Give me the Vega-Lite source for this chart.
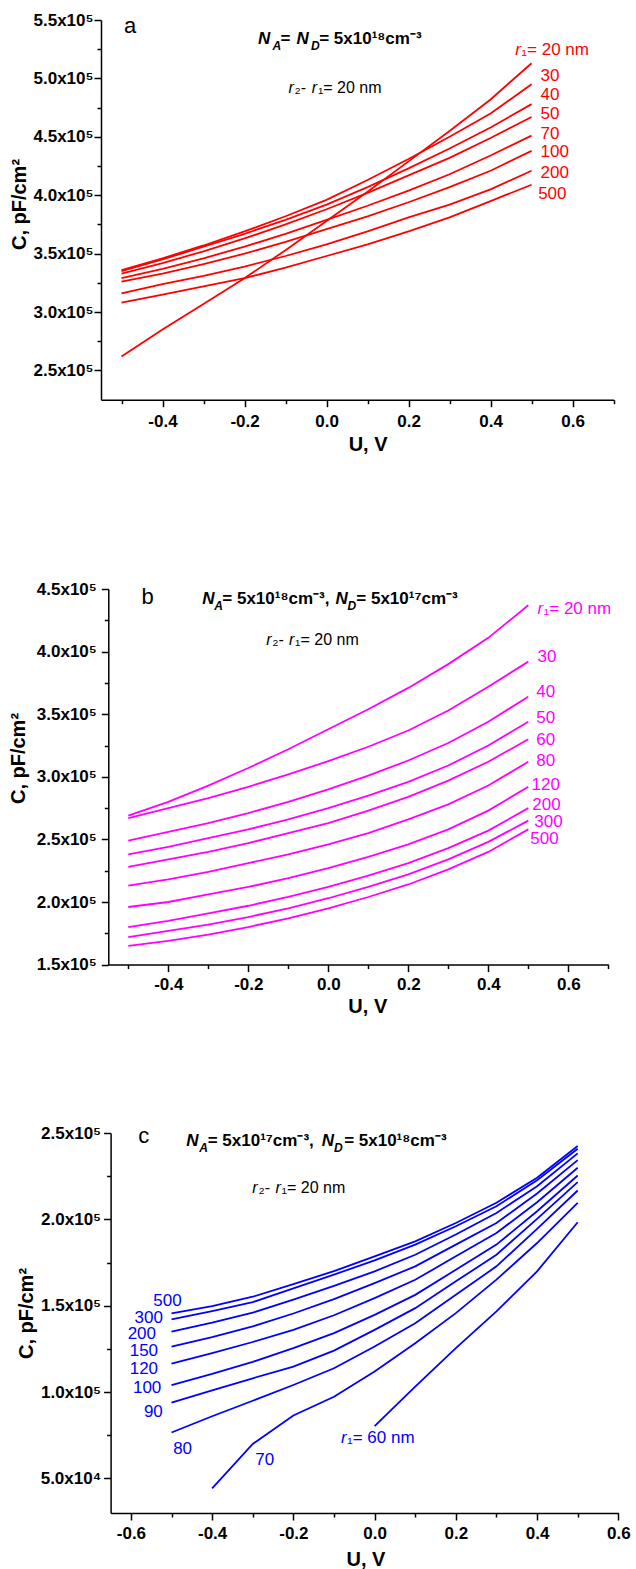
{
"$schema":"https://vega.github.io/schema/vega-lite/v6.json",
"padding":{"left":8,"top":11,"right":0,"bottom":0},
"config":{"font":"Liberation Sans","view":{"stroke":null},
 "axis":{"grid":false,"domainColor":"black","domainWidth":1.5,"tickColor":"black","tickWidth":1.5,"tickSize":7,"labelColor":"black","labelFont":"Liberation Sans","labelFontWeight":"bold","labelFontSize":17,"titleColor":"black","titleFont":"Liberation Sans","titleFontWeight":"bold","titleFontSize":20,"labelOverlap":false,"labelFlush":false}},
"datasets":{
"al":[
{"r":20,"u":-0.5,"c":262000},{"r":20,"u":-0.4,"c":285000},{"r":20,"u":-0.3,"c":307000},{"r":20,"u":-0.2,"c":329000},{"r":20,"u":-0.1,"c":353000},{"r":20,"u":0,"c":378000},{"r":20,"u":0.1,"c":403000},{"r":20,"u":0.2,"c":429000},{"r":20,"u":0.3,"c":455000},{"r":20,"u":0.4,"c":482000},{"r":20,"u":0.5,"c":513000},
{"r":30,"u":-0.5,"c":336000},{"r":30,"u":-0.4,"c":346000},{"r":30,"u":-0.3,"c":357000},{"r":30,"u":-0.2,"c":369000},{"r":30,"u":-0.1,"c":382000},{"r":30,"u":0,"c":396000},{"r":30,"u":0.1,"c":413000},{"r":30,"u":0.2,"c":431000},{"r":30,"u":0.3,"c":450000},{"r":30,"u":0.4,"c":470000},{"r":30,"u":0.5,"c":495000},
{"r":40,"u":-0.5,"c":335000},{"r":40,"u":-0.4,"c":345000},{"r":40,"u":-0.3,"c":356000},{"r":40,"u":-0.2,"c":367000},{"r":40,"u":-0.1,"c":379000},{"r":40,"u":0,"c":392000},{"r":40,"u":0.1,"c":407000},{"r":40,"u":0.2,"c":423000},{"r":40,"u":0.3,"c":440000},{"r":40,"u":0.4,"c":458000},{"r":40,"u":0.5,"c":478000},
{"r":50,"u":-0.5,"c":333000},{"r":50,"u":-0.4,"c":342000},{"r":50,"u":-0.3,"c":352000},{"r":50,"u":-0.2,"c":363000},{"r":50,"u":-0.1,"c":375000},{"r":50,"u":0,"c":388000},{"r":50,"u":0.1,"c":402000},{"r":50,"u":0.2,"c":417000},{"r":50,"u":0.3,"c":432000},{"r":50,"u":0.4,"c":449000},{"r":50,"u":0.5,"c":467000},
{"r":70,"u":-0.5,"c":329000},{"r":70,"u":-0.4,"c":337000},{"r":70,"u":-0.3,"c":346000},{"r":70,"u":-0.2,"c":356000},{"r":70,"u":-0.1,"c":367000},{"r":70,"u":0,"c":379000},{"r":70,"u":0.1,"c":391000},{"r":70,"u":0.2,"c":404000},{"r":70,"u":0.3,"c":418000},{"r":70,"u":0.4,"c":434000},{"r":70,"u":0.5,"c":451000},
{"r":100,"u":-0.5,"c":326000},{"r":100,"u":-0.4,"c":333000},{"r":100,"u":-0.3,"c":341000},{"r":100,"u":-0.2,"c":350000},{"r":100,"u":-0.1,"c":360000},{"r":100,"u":0,"c":371000},{"r":100,"u":0.1,"c":382000},{"r":100,"u":0.2,"c":394000},{"r":100,"u":0.3,"c":407000},{"r":100,"u":0.4,"c":421000},{"r":100,"u":0.5,"c":438000},
{"r":200,"u":-0.5,"c":316000},{"r":200,"u":-0.4,"c":324000},{"r":200,"u":-0.3,"c":331000},{"r":200,"u":-0.2,"c":339000},{"r":200,"u":-0.1,"c":348000},{"r":200,"u":0,"c":358000},{"r":200,"u":0.1,"c":369000},{"r":200,"u":0.2,"c":381000},{"r":200,"u":0.3,"c":392000},{"r":200,"u":0.4,"c":405000},{"r":200,"u":0.5,"c":421000},
{"r":500,"u":-0.5,"c":308000},{"r":500,"u":-0.4,"c":315000},{"r":500,"u":-0.3,"c":322000},{"r":500,"u":-0.2,"c":329000},{"r":500,"u":-0.1,"c":338000},{"r":500,"u":0,"c":348000},{"r":500,"u":0.1,"c":358000},{"r":500,"u":0.2,"c":369000},{"r":500,"u":0.3,"c":381000},{"r":500,"u":0.4,"c":395000},{"r":500,"u":0.5,"c":409000}
],
"at":[
{"role":"letter","t":"a","u":-0.494,"c":539200},
{"role":"headvar","t":"N","u":-0.167,"c":529200},
{"role":"headsub","t":"A","u":-0.132,"c":529200},
{"role":"head","t":"=","u":-0.112,"c":529200},
{"role":"headvar","t":"N","u":-0.073,"c":529200},
{"role":"headsub","t":"D","u":-0.038,"c":529200},
{"role":"head","t":"= 5x10¹⁸cm⁻³","u":-0.018,"c":529200},
{"role":"notevar","t":"r","u":-0.0925,"c":487800},
{"role":"note","t":"₂-","u":-0.078,"c":487800},
{"role":"notevar","t":"r","u":-0.036,"c":487800},
{"role":"note","t":"₁= 20 nm","u":-0.021,"c":487800},
{"role":"curvevar","t":"r","u":0.46,"c":519800},
{"role":"curve","t":"₁= 20 nm","u":0.475,"c":519800},
{"role":"curve","t":"30","u":0.522,"c":497800},
{"role":"curve","t":"40","u":0.522,"c":481300},
{"role":"curve","t":"50","u":0.522,"c":465600},
{"role":"curve","t":"70","u":0.522,"c":448500},
{"role":"curve","t":"100","u":0.522,"c":432800},
{"role":"curve","t":"200","u":0.522,"c":415100},
{"role":"curve","t":"500","u":0.516,"c":396600}
],
"bl":[
{"r":20,"u":-0.5,"c":269000},{"r":20,"u":-0.4,"c":280000},{"r":20,"u":-0.3,"c":293000},{"r":20,"u":-0.2,"c":307000},{"r":20,"u":-0.1,"c":322000},{"r":20,"u":0,"c":338000},{"r":20,"u":0.1,"c":354000},{"r":20,"u":0.2,"c":371000},{"r":20,"u":0.3,"c":390000},{"r":20,"u":0.4,"c":411000},{"r":20,"u":0.5,"c":437000},
{"r":30,"u":-0.5,"c":267000},{"r":30,"u":-0.4,"c":275000},{"r":30,"u":-0.3,"c":283000},{"r":30,"u":-0.2,"c":292000},{"r":30,"u":-0.1,"c":302000},{"r":30,"u":0,"c":312500},{"r":30,"u":0.1,"c":324000},{"r":30,"u":0.2,"c":337000},{"r":30,"u":0.3,"c":353000},{"r":30,"u":0.4,"c":372000},{"r":30,"u":0.5,"c":392000},
{"r":40,"u":-0.5,"c":249000},{"r":40,"u":-0.4,"c":256000},{"r":40,"u":-0.3,"c":263000},{"r":40,"u":-0.2,"c":271000},{"r":40,"u":-0.1,"c":280000},{"r":40,"u":0,"c":290000},{"r":40,"u":0.1,"c":301000},{"r":40,"u":0.2,"c":313000},{"r":40,"u":0.3,"c":327000},{"r":40,"u":0.4,"c":344000},{"r":40,"u":0.5,"c":364000},
{"r":50,"u":-0.5,"c":238000},{"r":50,"u":-0.4,"c":244000},{"r":50,"u":-0.3,"c":251000},{"r":50,"u":-0.2,"c":258000},{"r":50,"u":-0.1,"c":266000},{"r":50,"u":0,"c":275000},{"r":50,"u":0.1,"c":285000},{"r":50,"u":0.2,"c":296000},{"r":50,"u":0.3,"c":309000},{"r":50,"u":0.4,"c":325000},{"r":50,"u":0.5,"c":344000},
{"r":60,"u":-0.5,"c":228000},{"r":60,"u":-0.4,"c":234000},{"r":60,"u":-0.3,"c":240000},{"r":60,"u":-0.2,"c":247000},{"r":60,"u":-0.1,"c":255000},{"r":60,"u":0,"c":263000},{"r":60,"u":0.1,"c":273000},{"r":60,"u":0.2,"c":284000},{"r":60,"u":0.3,"c":297000},{"r":60,"u":0.4,"c":312000},{"r":60,"u":0.5,"c":330000},
{"r":80,"u":-0.5,"c":213000},{"r":80,"u":-0.4,"c":218000},{"r":80,"u":-0.3,"c":224000},{"r":80,"u":-0.2,"c":231000},{"r":80,"u":-0.1,"c":238000},{"r":80,"u":0,"c":246000},{"r":80,"u":0.1,"c":255000},{"r":80,"u":0.2,"c":266000},{"r":80,"u":0.3,"c":278000},{"r":80,"u":0.4,"c":293000},{"r":80,"u":0.5,"c":312000},
{"r":120,"u":-0.5,"c":196000},{"r":120,"u":-0.4,"c":200000},{"r":120,"u":-0.3,"c":206000},{"r":120,"u":-0.2,"c":212000},{"r":120,"u":-0.1,"c":219000},{"r":120,"u":0,"c":227000},{"r":120,"u":0.1,"c":236000},{"r":120,"u":0.2,"c":246000},{"r":120,"u":0.3,"c":258000},{"r":120,"u":0.4,"c":273000},{"r":120,"u":0.5,"c":292000},
{"r":200,"u":-0.5,"c":180000},{"r":200,"u":-0.4,"c":185000},{"r":200,"u":-0.3,"c":191000},{"r":200,"u":-0.2,"c":197000},{"r":200,"u":-0.1,"c":204000},{"r":200,"u":0,"c":212000},{"r":200,"u":0.1,"c":221000},{"r":200,"u":0.2,"c":231000},{"r":200,"u":0.3,"c":243000},{"r":200,"u":0.4,"c":257000},{"r":200,"u":0.5,"c":275000},
{"r":300,"u":-0.5,"c":172000},{"r":300,"u":-0.4,"c":177000},{"r":300,"u":-0.3,"c":182000},{"r":300,"u":-0.2,"c":188000},{"r":300,"u":-0.1,"c":195000},{"r":300,"u":0,"c":203000},{"r":300,"u":0.1,"c":212000},{"r":300,"u":0.2,"c":222000},{"r":300,"u":0.3,"c":234000},{"r":300,"u":0.4,"c":248000},{"r":300,"u":0.5,"c":265000},
{"r":500,"u":-0.5,"c":165000},{"r":500,"u":-0.4,"c":169000},{"r":500,"u":-0.3,"c":174000},{"r":500,"u":-0.2,"c":180000},{"r":500,"u":-0.1,"c":187000},{"r":500,"u":0,"c":195000},{"r":500,"u":0.1,"c":204000},{"r":500,"u":0.2,"c":214000},{"r":500,"u":0.3,"c":226000},{"r":500,"u":0.4,"c":240000},{"r":500,"u":0.5,"c":258000}
],
"bt":[
{"role":"letter","t":"b","u":-0.467,"c":438000},
{"role":"headvar","t":"N","u":-0.315,"c":438000},
{"role":"headsub","t":"A","u":-0.285,"c":438000},
{"role":"head","t":"= 5x10¹⁸cm⁻³,","u":-0.265,"c":438000},
{"role":"headvar","t":"N","u":0.018,"c":438000},
{"role":"headsub","t":"D","u":0.048,"c":438000},
{"role":"head","t":"= 5x10¹⁷cm⁻³","u":0.07,"c":438000},
{"role":"notevar","t":"r","u":-0.155,"c":405000},
{"role":"note","t":"₂-","u":-0.14,"c":405000},
{"role":"notevar","t":"r","u":-0.098,"c":405000},
{"role":"note","t":"₁= 20 nm","u":-0.083,"c":405000},
{"role":"curvevar","t":"r","u":0.523,"c":430000},
{"role":"curve","t":"₁= 20 nm","u":0.538,"c":430000},
{"role":"curve","t":"30","u":0.523,"c":391500},
{"role":"curve","t":"40","u":0.52,"c":363600},
{"role":"curve","t":"50","u":0.52,"c":342600},
{"role":"curve","t":"60","u":0.52,"c":325300},
{"role":"curve","t":"80","u":0.52,"c":308500},
{"role":"curve","t":"120","u":0.508,"c":289100},
{"role":"curve","t":"200","u":0.51,"c":273100},
{"role":"curve","t":"300","u":0.515,"c":259800},
{"role":"curve","t":"500","u":0.505,"c":246500}
],
"cl":[
{"r":500,"u":-0.5,"c":145600},{"r":500,"u":-0.4,"c":149800},{"r":500,"u":-0.3,"c":155200},{"r":500,"u":-0.2,"c":162500},{"r":500,"u":-0.1,"c":170000},{"r":500,"u":0,"c":178600},{"r":500,"u":0.1,"c":187300},{"r":500,"u":0.2,"c":197900},{"r":500,"u":0.3,"c":209600},{"r":500,"u":0.4,"c":224100},{"r":500,"u":0.5,"c":242500},
{"r":300,"u":-0.5,"c":142100},{"r":300,"u":-0.4,"c":146900},{"r":300,"u":-0.3,"c":152100},{"r":300,"u":-0.2,"c":160000},{"r":300,"u":-0.1,"c":168000},{"r":300,"u":0,"c":176300},{"r":300,"u":0.1,"c":185400},{"r":300,"u":0.2,"c":196000},{"r":300,"u":0.3,"c":207600},{"r":300,"u":0.4,"c":222700},{"r":300,"u":0.5,"c":240900},
{"r":200,"u":-0.5,"c":135000},{"r":200,"u":-0.4,"c":140200},{"r":200,"u":-0.3,"c":146000},{"r":200,"u":-0.2,"c":153500},{"r":200,"u":-0.1,"c":161500},{"r":200,"u":0,"c":169900},{"r":200,"u":0.1,"c":179500},{"r":200,"u":0.2,"c":191200},{"r":200,"u":0.3,"c":203700},{"r":200,"u":0.4,"c":219200},{"r":200,"u":0.5,"c":238200},
{"r":150,"u":-0.5,"c":126300},{"r":150,"u":-0.4,"c":131800},{"r":150,"u":-0.3,"c":138000},{"r":150,"u":-0.2,"c":145500},{"r":150,"u":-0.1,"c":153800},{"r":150,"u":0,"c":163100},{"r":150,"u":0.1,"c":172800},{"r":150,"u":0.2,"c":185400},{"r":150,"u":0.3,"c":197900},{"r":150,"u":0.4,"c":215000},{"r":150,"u":0.5,"c":234300},
{"r":120,"u":-0.5,"c":116500},{"r":120,"u":-0.4,"c":122500},{"r":120,"u":-0.3,"c":129000},{"r":120,"u":-0.2,"c":136000},{"r":120,"u":-0.1,"c":144500},{"r":120,"u":0,"c":154400},{"r":120,"u":0.1,"c":165000},{"r":120,"u":0.2,"c":178600},{"r":120,"u":0.3,"c":192100},{"r":120,"u":0.4,"c":209900},{"r":120,"u":0.5,"c":229900},
{"r":100,"u":-0.5,"c":104100},{"r":100,"u":-0.4,"c":110500},{"r":100,"u":-0.3,"c":117500},{"r":100,"u":-0.2,"c":125400},{"r":100,"u":-0.1,"c":134100},{"r":100,"u":0,"c":144700},{"r":100,"u":0.1,"c":156300},{"r":100,"u":0.2,"c":170800},{"r":100,"u":0.3,"c":185400},{"r":100,"u":0.4,"c":204700},{"r":100,"u":0.5,"c":225400},
{"r":90,"u":-0.5,"c":93900},{"r":90,"u":-0.4,"c":101000},{"r":90,"u":-0.3,"c":108000},{"r":90,"u":-0.2,"c":114800},{"r":90,"u":-0.1,"c":124000},{"r":90,"u":0,"c":136000},{"r":90,"u":0.1,"c":148600},{"r":90,"u":0.2,"c":164100},{"r":90,"u":0.3,"c":179500},{"r":90,"u":0.4,"c":200300},{"r":90,"u":0.5,"c":221600},
{"r":80,"u":-0.5,"c":76600},{"r":80,"u":-0.4,"c":86000},{"r":80,"u":-0.3,"c":95000},{"r":80,"u":-0.2,"c":104100},{"r":80,"u":-0.1,"c":113800},{"r":80,"u":0,"c":126400},{"r":80,"u":0.1,"c":139900},{"r":80,"u":0.2,"c":156300},{"r":80,"u":0.3,"c":172800},{"r":80,"u":0.4,"c":194500},{"r":80,"u":0.5,"c":216700},
{"r":70,"u":-0.4,"c":44200},{"r":70,"u":-0.3,"c":70000},{"r":70,"u":-0.2,"c":86500},{"r":70,"u":-0.1,"c":97300},{"r":70,"u":0,"c":111900},{"r":70,"u":0.1,"c":128300},{"r":70,"u":0.2,"c":145700},{"r":70,"u":0.3,"c":165100},{"r":70,"u":0.4,"c":186300},{"r":70,"u":0.5,"c":209600},
{"r":60,"u":0,"c":80300},{"r":60,"u":0.1,"c":103200},{"r":60,"u":0.2,"c":125400},{"r":60,"u":0.3,"c":146700},{"r":60,"u":0.4,"c":169900},{"r":60,"u":0.5,"c":198300}
],
"ct":[
{"role":"letter","t":"c","u":-0.582,"c":244000},
{"role":"headvar","t":"N","u":-0.464,"c":242300},
{"role":"headsub","t":"A","u":-0.432,"c":242300},
{"role":"head","t":"= 5x10¹⁷cm⁻³,","u":-0.411,"c":242300},
{"role":"headvar","t":"N","u":-0.13,"c":242300},
{"role":"headsub","t":"D","u":-0.1,"c":242300},
{"role":"head","t":"= 5x10¹⁸cm⁻³","u":-0.075,"c":242300},
{"role":"notevar","t":"r","u":-0.301,"c":215300},
{"role":"note","t":"₂-","u":-0.286,"c":215300},
{"role":"notevar","t":"r","u":-0.244,"c":215300},
{"role":"note","t":"₁= 20 nm","u":-0.229,"c":215300},
{"role":"curve","t":"500","u":-0.545,"c":149800},
{"role":"curve","t":"300","u":-0.591,"c":140200},
{"role":"curve","t":"200","u":-0.608,"c":130500},
{"role":"curve","t":"150","u":-0.603,"c":120900},
{"role":"curve","t":"120","u":-0.603,"c":110700},
{"role":"curve","t":"100","u":-0.595,"c":99700},
{"role":"curve","t":"90","u":-0.568,"c":85800},
{"role":"curve","t":"80","u":-0.496,"c":64100},
{"role":"curve","t":"70","u":-0.294,"c":57700},
{"role":"curvevar","t":"r","u":-0.083,"c":70800},
{"role":"curve","t":"₁= 60 nm","u":-0.068,"c":70800}
]
},
"spacing":125,
"vconcat":[
{
"width":512.6,"height":379.7,
"encoding":{
 "x":{"field":"u","type":"quantitative","scale":{"domain":[-0.55,0.7],"nice":false,"zero":false},
  "axis":{"title":"U, V","titleX":266.6,"titleY":34.5,"titleBaseline":"top","titleAlign":"center","labelPadding":7,"labelFlush":false,
   "values":[-0.5,-0.4,-0.3,-0.2,-0.1,0,0.1,0.2,0.3,0.4,0.5,0.6,0.7],
   "labelExpr":"abs(datum.value/0.2-round(datum.value/0.2))<0.01 ? (datum.value<-0.001?'-':'')+format(abs(datum.value),'.1f') : ''",
   "tickDash":{"condition":{"test":"abs(datum.value/0.2-round(datum.value/0.2))>0.01","value":[4,30]},"value":[]}}},
 "y":{"field":"c","type":"quantitative","scale":{"domain":[225000,550000],"nice":false,"zero":false},
  "axis":{"title":"C, pF/cm²","titleX":-81.8,"titleY":184,"titleAngle":-90,"titleBaseline":"middle","titleAlign":"center","labelPadding":1,
   "values":[250000,275000,300000,325000,350000,375000,400000,425000,450000,475000,500000,525000,550000],
   "labelExpr":"abs(datum.value/50000-round(datum.value/50000))<0.01 ? format(datum.value/100000,'.1f')+'x10⁵' : ''",
   "tickDash":{"condition":{"test":"abs(datum.value/50000-round(datum.value/50000))>0.01","value":[4,30]},"value":[]}}}
},
"layer":[
 {"data":{"name":"al"},"mark":{"type":"line","color":"#ff0000","strokeWidth":1.8},"encoding":{"detail":{"field":"r","type":"nominal"}}},
 {"data":{"name":"at"},"transform":[{"filter":"datum.role==='letter'"}],"mark":{"type":"text","align":"left","baseline":"alphabetic","fontSize":22,"color":"black"},"encoding":{"text":{"field":"t","type":"nominal"}}},
 {"data":{"name":"at"},"transform":[{"filter":"datum.role==='head'"}],"mark":{"type":"text","align":"left","baseline":"alphabetic","fontSize":17,"fontWeight":"bold","color":"black"},"encoding":{"text":{"field":"t","type":"nominal"}}},
 {"data":{"name":"at"},"transform":[{"filter":"datum.role==='headvar'"}],"mark":{"type":"text","align":"left","baseline":"alphabetic","fontSize":17,"fontWeight":"bold","fontStyle":"italic","color":"black"},"encoding":{"text":{"field":"t","type":"nominal"}}},
 {"data":{"name":"at"},"transform":[{"filter":"datum.role==='headsub'"}],"mark":{"type":"text","align":"left","baseline":"alphabetic","fontSize":12,"fontWeight":"bold","fontStyle":"italic","dy":6,"color":"black"},"encoding":{"text":{"field":"t","type":"nominal"}}},
 {"data":{"name":"at"},"transform":[{"filter":"datum.role==='note'"}],"mark":{"type":"text","align":"left","baseline":"alphabetic","fontSize":16,"color":"black"},"encoding":{"text":{"field":"t","type":"nominal"}}},
 {"data":{"name":"at"},"transform":[{"filter":"datum.role==='notevar'"}],"mark":{"type":"text","align":"left","baseline":"alphabetic","fontSize":16,"fontStyle":"italic","color":"black"},"encoding":{"text":{"field":"t","type":"nominal"}}},
 {"data":{"name":"at"},"transform":[{"filter":"datum.role==='curve'"}],"mark":{"type":"text","align":"left","baseline":"alphabetic","fontSize":17,"color":"#ff0000"},"encoding":{"text":{"field":"t","type":"nominal"}}},
 {"data":{"name":"at"},"transform":[{"filter":"datum.role==='curvevar'"}],"mark":{"type":"text","align":"left","baseline":"alphabetic","fontSize":17,"fontStyle":"italic","color":"#ff0000"},"encoding":{"text":{"field":"t","type":"nominal"}}}
]
},
{
"spacing":107,
"vconcat":[
{
"width":507.3,"height":375.6,
"encoding":{
 "x":{"field":"u","type":"quantitative","scale":{"domain":[-0.55,0.7],"range":[7.3,507.3],"nice":false,"zero":false},
  "axis":{"title":"U, V","titleX":266.3,"titleY":32,"titleBaseline":"top","titleAlign":"center","labelPadding":5,"labelFlush":false,
   "values":[-0.5,-0.4,-0.3,-0.2,-0.1,0,0.1,0.2,0.3,0.4,0.5,0.6,0.7],
   "labelExpr":"abs(datum.value/0.2-round(datum.value/0.2))<0.01 ? (datum.value<-0.001?'-':'')+format(abs(datum.value),'.1f') : ''",
   "tickDash":{"condition":{"test":"abs(datum.value/0.2-round(datum.value/0.2))>0.01","value":[4,30]},"value":[]}}},
 "y":{"field":"c","type":"quantitative","scale":{"domain":[150000,450000],"nice":false,"zero":false},
  "axis":{"title":"C, pF/cm²","offset":-7.3,"titleX":-90,"titleY":169,"titleAngle":-90,"titleBaseline":"middle","titleAlign":"center","labelPadding":5,
   "values":[150000,175000,200000,225000,250000,275000,300000,325000,350000,375000,400000,425000,450000],
   "labelExpr":"abs(datum.value/50000-round(datum.value/50000))<0.01 ? format(datum.value/100000,'.1f')+'x10⁵' : ''",
   "tickDash":{"condition":{"test":"abs(datum.value/50000-round(datum.value/50000))>0.01","value":[4,30]},"value":[]}}}
},
"layer":[
 {"data":{"name":"bl"},"mark":{"type":"line","color":"#ff00ff","strokeWidth":1.8},"encoding":{"detail":{"field":"r","type":"nominal"}}},
 {"data":{"name":"bt"},"transform":[{"filter":"datum.role==='letter'"}],"mark":{"type":"text","align":"left","baseline":"alphabetic","fontSize":22,"color":"black"},"encoding":{"text":{"field":"t","type":"nominal"}}},
 {"data":{"name":"bt"},"transform":[{"filter":"datum.role==='head'"}],"mark":{"type":"text","align":"left","baseline":"alphabetic","fontSize":17,"fontWeight":"bold","color":"black"},"encoding":{"text":{"field":"t","type":"nominal"}}},
 {"data":{"name":"bt"},"transform":[{"filter":"datum.role==='headvar'"}],"mark":{"type":"text","align":"left","baseline":"alphabetic","fontSize":17,"fontWeight":"bold","fontStyle":"italic","color":"black"},"encoding":{"text":{"field":"t","type":"nominal"}}},
 {"data":{"name":"bt"},"transform":[{"filter":"datum.role==='headsub'"}],"mark":{"type":"text","align":"left","baseline":"alphabetic","fontSize":12,"fontWeight":"bold","fontStyle":"italic","dy":6,"color":"black"},"encoding":{"text":{"field":"t","type":"nominal"}}},
 {"data":{"name":"bt"},"transform":[{"filter":"datum.role==='note'"}],"mark":{"type":"text","align":"left","baseline":"alphabetic","fontSize":16,"color":"black"},"encoding":{"text":{"field":"t","type":"nominal"}}},
 {"data":{"name":"bt"},"transform":[{"filter":"datum.role==='notevar'"}],"mark":{"type":"text","align":"left","baseline":"alphabetic","fontSize":16,"fontStyle":"italic","color":"black"},"encoding":{"text":{"field":"t","type":"nominal"}}},
 {"data":{"name":"bt"},"transform":[{"filter":"datum.role==='curve'"}],"mark":{"type":"text","align":"left","baseline":"alphabetic","fontSize":17,"color":"#ff00ff"},"encoding":{"text":{"field":"t","type":"nominal"}}},
 {"data":{"name":"bt"},"transform":[{"filter":"datum.role==='curvevar'"}],"mark":{"type":"text","align":"left","baseline":"alphabetic","fontSize":17,"fontStyle":"italic","color":"#ff00ff"},"encoding":{"text":{"field":"t","type":"nominal"}}}
]
},
{
"width":517.3,"height":380,
"encoding":{
 "x":{"field":"u","type":"quantitative","scale":{"domain":[-0.65,0.6],"range":[9.6,517.3],"nice":false,"zero":false},
  "axis":{"title":"U, V","titleX":264.5,"titleY":36,"titleBaseline":"top","titleAlign":"center","labelPadding":5,"labelFlush":false,
   "values":[-0.6,-0.5,-0.4,-0.3,-0.2,-0.1,0,0.1,0.2,0.3,0.4,0.5,0.6],
   "labelExpr":"abs(datum.value/0.2-round(datum.value/0.2))<0.01 ? (datum.value<-0.001?'-':'')+format(abs(datum.value),'.1f') : ''",
   "tickDash":{"condition":{"test":"abs(datum.value/0.2-round(datum.value/0.2))>0.01","value":[4,30]},"value":[]}}},
 "y":{"field":"c","type":"quantitative","scale":{"domain":[30000,250000],"nice":false,"zero":false},
  "axis":{"title":"C, pF/cm²","offset":-9.6,"titleX":-84.6,"titleY":180,"titleAngle":-90,"titleBaseline":"middle","titleAlign":"center","labelPadding":3,
   "values":[50000,75000,100000,125000,150000,175000,200000,225000,250000],
   "labelExpr":"abs(datum.value/50000-round(datum.value/50000))<0.01 ? (datum.value<99000 ? format(datum.value/10000,'.1f')+'x10⁴' : format(datum.value/100000,'.1f')+'x10⁵') : ''",
   "tickDash":{"condition":{"test":"abs(datum.value/50000-round(datum.value/50000))>0.01","value":[4,30]},"value":[]}}}
},
"layer":[
 {"data":{"name":"cl"},"mark":{"type":"line","color":"#0000ff","strokeWidth":1.8},"encoding":{"detail":{"field":"r","type":"nominal"}}},
 {"data":{"name":"ct"},"transform":[{"filter":"datum.role==='letter'"}],"mark":{"type":"text","align":"left","baseline":"alphabetic","fontSize":22,"color":"black"},"encoding":{"text":{"field":"t","type":"nominal"}}},
 {"data":{"name":"ct"},"transform":[{"filter":"datum.role==='head'"}],"mark":{"type":"text","align":"left","baseline":"alphabetic","fontSize":17,"fontWeight":"bold","color":"black"},"encoding":{"text":{"field":"t","type":"nominal"}}},
 {"data":{"name":"ct"},"transform":[{"filter":"datum.role==='headvar'"}],"mark":{"type":"text","align":"left","baseline":"alphabetic","fontSize":17,"fontWeight":"bold","fontStyle":"italic","color":"black"},"encoding":{"text":{"field":"t","type":"nominal"}}},
 {"data":{"name":"ct"},"transform":[{"filter":"datum.role==='headsub'"}],"mark":{"type":"text","align":"left","baseline":"alphabetic","fontSize":12,"fontWeight":"bold","fontStyle":"italic","dy":6,"color":"black"},"encoding":{"text":{"field":"t","type":"nominal"}}},
 {"data":{"name":"ct"},"transform":[{"filter":"datum.role==='note'"}],"mark":{"type":"text","align":"left","baseline":"alphabetic","fontSize":16,"color":"black"},"encoding":{"text":{"field":"t","type":"nominal"}}},
 {"data":{"name":"ct"},"transform":[{"filter":"datum.role==='notevar'"}],"mark":{"type":"text","align":"left","baseline":"alphabetic","fontSize":16,"fontStyle":"italic","color":"black"},"encoding":{"text":{"field":"t","type":"nominal"}}},
 {"data":{"name":"ct"},"transform":[{"filter":"datum.role==='curve'"}],"mark":{"type":"text","align":"left","baseline":"alphabetic","fontSize":17,"color":"#0000ff"},"encoding":{"text":{"field":"t","type":"nominal"}}},
 {"data":{"name":"ct"},"transform":[{"filter":"datum.role==='curvevar'"}],"mark":{"type":"text","align":"left","baseline":"alphabetic","fontSize":17,"fontStyle":"italic","color":"#0000ff"},"encoding":{"text":{"field":"t","type":"nominal"}}}
]
}
]
}
]
}
